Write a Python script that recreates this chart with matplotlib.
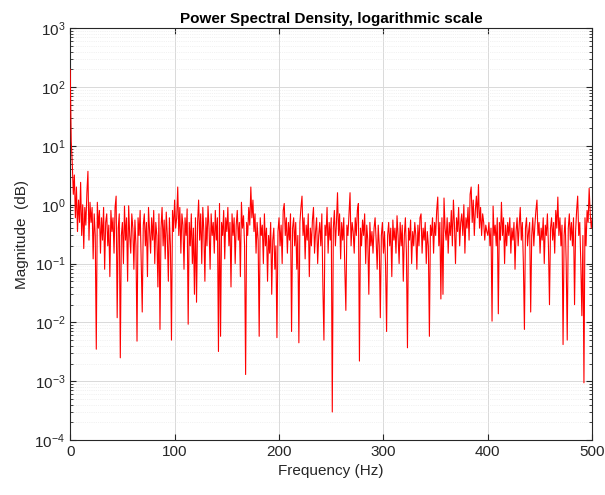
import matplotlib
matplotlib.use('Agg')
import matplotlib.pyplot as plt
import numpy as np

plt.rcParams['font.family'] = ['Liberation Sans', 'DejaVu Sans']

# PSD magnitude, one value per Hz (0..500)
magnitude = [
    200, 12, 5.0, 1.5, 3.2, 0.6, 2.0, 0.35, 1.2, 0.5,
    2.4, 0.3, 1.0, 0.18, 0.9, 0.45, 1.6, 3.7, 0.25, 1.1,
    0.5, 0.9, 0.12, 0.7, 0.3, 0.0035, 1.1, 0.4, 0.8, 0.15,
    0.6, 0.25, 0.9, 0.08, 0.5, 0.7, 0.2, 0.45, 0.06, 0.8,
    0.35, 0.6, 0.15, 0.9, 1.4, 0.012, 0.4, 0.7, 0.0025, 0.3,
    0.5, 0.1, 0.95, 0.25, 0.6, 0.05, 0.96, 0.3, 0.15, 0.7,
    0.4, 0.08, 0.55, 0.2, 0.0048, 0.6, 0.3, 0.8, 0.1, 0.015,
    0.45, 0.7, 0.2, 0.5, 0.06, 0.9, 0.35, 0.15, 0.6, 0.25,
    0.8, 0.1, 0.5, 0.3, 0.04, 0.7, 0.0076, 0.4, 0.9, 0.2,
    0.55, 0.12, 0.75, 0.3, 0.05, 0.6, 0.2, 0.005, 0.8, 0.35,
    1.2, 0.4, 0.6, 2.0, 0.3, 0.9, 0.15, 0.7, 0.45, 0.08,
    0.6, 0.3, 0.85, 0.0093, 0.5, 0.2, 0.7, 0.1, 0.4, 0.03,
    0.6, 0.022, 0.5, 1.2, 0.25, 0.7, 0.1, 0.9, 0.35, 0.05,
    0.6, 0.2, 0.95, 0.4, 0.08, 0.7, 0.3, 0.5, 0.15, 0.8,
    0.25, 0.6, 0.0032, 1.05, 0.0058, 0.5, 0.3, 0.8, 0.12, 0.6,
    0.35, 0.9, 0.2, 0.5, 0.04, 0.7, 0.3, 0.6, 0.1, 0.45,
    0.8, 0.25, 0.5, 0.06, 1.1, 0.4, 0.65, 0.2, 0.0013, 0.5,
    0.3, 0.9, 0.45, 2.0, 0.6, 1.2, 0.35, 0.7, 0.15, 0.5,
    0.25, 0.0058, 0.6, 0.3, 0.45, 0.1, 0.7, 0.2, 0.4, 0.05,
    0.3, 0.15, 0.5, 0.03, 0.25, 0.4, 0.08, 0.2, 0.0055, 0.35,
    0.6, 0.2, 0.45, 0.1, 0.8, 1.05, 0.3, 0.6, 0.15, 0.5,
    0.25, 0.7, 0.007, 0.4, 0.6, 0.2, 0.5, 0.08, 0.3, 0.0045,
    0.5, 0.9, 1.4, 0.3, 0.6, 0.12, 0.45, 0.25, 0.7, 0.06,
    0.4, 0.2, 0.55, 0.9, 0.15, 0.35, 0.6, 0.1, 0.3, 0.5,
    0.2, 0.7, 0.04, 0.005, 0.45, 0.3, 0.9, 0.15, 0.5, 0.25,
    0.6, 0.0003, 0.4, 0.8, 0.2, 0.5, 1.6, 0.3, 0.7, 0.12,
    0.5, 0.25, 0.6, 0.08, 0.016, 0.45, 0.3, 0.7, 1.6, 0.2,
    0.5, 0.35, 0.15, 0.6, 0.3, 0.8, 1.05, 0.0022, 0.4, 0.2,
    0.55, 0.3, 0.7, 0.1, 0.45, 0.25, 0.03, 0.5, 0.2, 0.35,
    0.15, 0.4, 0.6, 0.25, 0.08, 0.45, 0.2, 0.012, 0.3, 0.5,
    0.15, 0.35, 0.1, 0.007, 0.3, 0.5, 0.2, 0.4, 0.06, 0.55,
    0.25, 0.4, 0.15, 0.65, 0.3, 0.1, 0.5, 0.2, 0.45, 0.05,
    0.3, 0.6, 0.15, 0.0037, 0.4, 0.25, 0.55, 0.1, 0.35, 0.2,
    0.5, 0.3, 0.08, 0.45, 0.2, 0.6, 0.7, 0.15, 0.4, 0.25,
    0.5, 0.1, 0.35, 0.2, 0.0058, 0.45, 0.3, 0.6, 0.15, 0.5,
    0.3, 0.8, 1.35, 0.2, 0.5, 0.025, 0.6, 0.03, 1.3, 0.4,
    0.25, 0.6, 0.15, 0.5, 0.3, 0.8, 0.2, 1.2, 0.45, 0.1,
    0.6, 0.35, 0.9, 0.2, 0.5, 0.7, 0.3, 1.0, 0.15, 0.6,
    0.4, 0.9, 0.25, 1.5, 2.0, 0.5, 1.2, 0.3, 0.8, 1.4,
    0.6, 2.2, 0.4, 0.9, 0.3, 0.7, 0.5, 0.25, 0.45, 0.35,
    0.3, 0.5, 0.2, 0.4, 0.0105, 0.95, 0.3, 0.45, 0.2, 0.6,
    0.014, 0.5, 0.25, 1.1, 0.3, 0.6, 0.1, 0.45, 0.2, 0.5,
    0.3, 0.6, 0.15, 0.4, 0.25, 0.5, 0.08, 0.35, 0.6, 0.2,
    0.45, 0.9, 0.25, 0.5, 0.1, 0.0076, 0.4, 0.6, 0.2, 0.35,
    0.5, 0.015, 0.3, 0.6, 0.2, 0.45, 0.8, 1.2, 0.3, 0.5,
    0.15, 0.4, 0.25, 0.6, 0.1, 0.45, 0.3, 0.7, 0.2, 0.02,
    0.4, 0.6, 0.25, 0.5, 0.15, 0.8, 0.4, 1.35, 0.3, 0.6,
    0.2, 0.45, 0.0042, 0.3, 0.6, 0.1, 0.005, 0.4, 0.7, 0.25,
    0.5, 0.2, 0.6, 0.02, 0.35, 0.8, 1.4, 0.3, 0.5, 0.1,
    0.013, 0.3, 0.00094, 0.6, 0.2, 0.8, 0.5, 1.9, 0.7, 0.4,
    0.6,
]
frequency = np.arange(len(magnitude))  # Hz

x_ticks = [0, 100, 200, 300, 400, 500]
y_ticks = [1e-4, 1e-3, 1e-2, 1e-1, 1e0, 1e1, 1e2, 1e3]

fig = plt.figure(figsize=(6.05, 4.95), dpi=100)
ax = fig.add_axes([0.116, 0.111, 0.863, 0.832])

# zorder above the spines so the DC spike on the left edge stays visible
ax.semilogy(frequency, magnitude, color='#ff0000', linewidth=0.8, zorder=3)

ax.set_xlim(0, 500)
ax.set_ylim(1e-4, 1e3)
ax.set_xticks(x_ticks)
ax.set_yticks(y_ticks)

ax.grid(True, which='major', color='#d9d9d9', linewidth=0.7)
ax.grid(True, which='minor', color='#e6e6e6', linewidth=0.5, linestyle=':')
ax.minorticks_on()
ax.xaxis.set_minor_locator(matplotlib.ticker.NullLocator())
ax.set_axisbelow(True)

ax.tick_params(which='both', direction='in', top=True, right=True,
               labelsize=11, colors='#262626')
ax.tick_params(which='major', length=4)
ax.tick_params(which='minor', length=2)
for s in ax.spines.values():
    s.set_color('#262626')
    s.set_linewidth(0.8)

ax.set_title('Power Spectral Density, logarithmic scale', fontsize=11,
             fontweight='bold', pad=4)
ax.set_xlabel('Frequency (Hz)', fontsize=11, color='#262626')
ax.set_ylabel('Magnitude  (dB)', fontsize=11, color='#262626')

fig.savefig('out.png', dpi=100)
